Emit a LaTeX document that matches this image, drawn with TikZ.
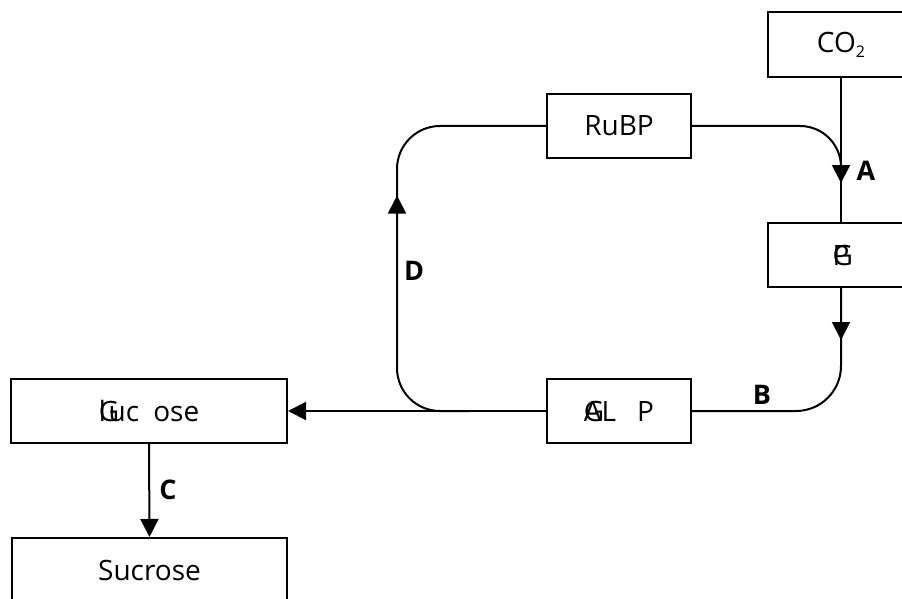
\documentclass[tikz,border=0pt]{standalone}
\usepackage{fontspec}
\setmainfont{Open Sans}
\usetikzlibrary{arrows.meta,decorations.markings}
\tikzset{
  mytip/.tip={Triangle[length=18pt,width=18pt]},
  box/.style={draw, line width=2pt, inner sep=0pt, font=\fontsize{28}{30}\selectfont},
  conn/.style={line width=2pt},
  lab/.style={font=\fontsize{27}{29}\selectfont\bfseries, inner sep=0pt},
  midarrow/.style={postaction={decorate}, decoration={markings, mark=at position #1 with {\arrow{mytip}}}}
}
\begin{document}
\begin{tikzpicture}[x=1pt,y=-1pt]
\useasboundingbox (0,0) rectangle (902,599);
\clip (0,0) rectangle (902,599);

\node[box, minimum width=146pt, minimum height=65pt] (co2) at (841,44.5)
  {CO\raisebox{-5pt}{\fontsize{16}{16}\selectfont 2}};
\node[box, minimum width=144pt, minimum height=64pt] (rubp) at (619,126) {RuBP};
\node[box, minimum width=146pt, minimum height=64pt] (gp) at (841,255) {\rlap{G}P\hspace{8pt}};
\node[box, minimum width=144pt, minimum height=64pt] (galp) at (619,411) {\rlap{G}AL\hspace{21pt}P};
\node[box, minimum width=276pt, minimum height=64pt] (glucose) at (149,411)
  {\rlap{G}\rlap{l}\hspace{10pt}uc\hspace{14pt}ose};
\node[box, minimum width=275pt, minimum height=64pt] (sucrose) at (149.5,570) {Sucrose};

\coordinate (aJoin) at (841,172);
\coordinate (bCorner) at (841,411);
\coordinate (dStart) at (470,411);
\coordinate (dLow) at (397,411);
\coordinate (dHigh) at (397,126);

% CO2 -> GP (arrow A)
\draw[conn, midarrow=105pt] (co2.south) -- (gp.north);
% RuBP -> joins the A line
\draw[conn, rounded corners=41pt] (rubp.east) -| (aJoin);
% GP -> GALP (B)
\draw[conn, rounded corners=45pt, midarrow=52pt] (gp.south) -- (bCorner) -- (galp.east);
% GALP -> Glucose
\draw[conn, -{mytip}] (galp.west) -- (glucose.east);
% D: back to RuBP
\draw[conn, rounded corners=43pt, midarrow=270pt] (dStart) -- (dLow) -- (dHigh) -- (rubp.west);
% Glucose -> Sucrose (C)
\draw[conn, -{mytip}] (glucose.south) -- (sucrose.north);

\node[lab] (la) at (866,171) {A};
\node[lab] (lb) at (762,395) {B};
\node[lab] (lc) at (168,490) {C};
\node[lab] (ld) at (414,271) {D};
\end{tikzpicture}
\end{document}
